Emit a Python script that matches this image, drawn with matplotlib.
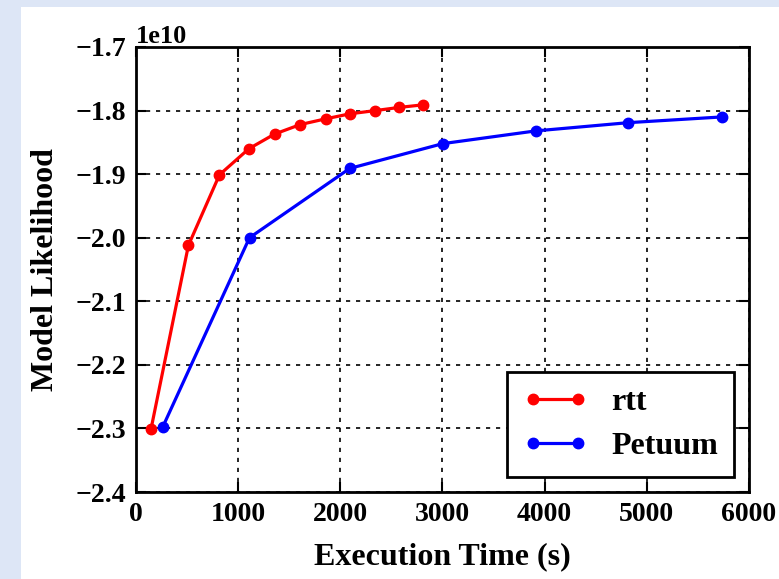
import matplotlib
matplotlib.use("Agg")
import matplotlib.pyplot as plt
from matplotlib.patches import Rectangle

# Convergence data: execution time (s) vs. model log-likelihood
rtt_time = [147, 513, 817, 1105, 1356, 1608, 1856, 2098, 2343, 2578, 2807]
rtt_ll = [-2.301e10, -2.012e10, -1.901e10, -1.860e10, -1.837e10, -1.822e10,
          -1.813e10, -1.805e10, -1.800e10, -1.795e10, -1.791e10]

petuum_time = [261, 1111, 2092, 3003, 3912, 4820, 5735]
petuum_ll = [-2.298e10, -2.000e10, -1.891e10, -1.852e10, -1.832e10,
             -1.819e10, -1.810e10]

x_ticks = [0, 1000, 2000, 3000, 4000, 5000, 6000]
y_ticks = [-2.4e10, -2.3e10, -2.2e10, -2.1e10, -2.0e10, -1.9e10, -1.8e10, -1.7e10]

plt.rcParams['font.family'] = ['Liberation Serif', 'DejaVu Serif']
plt.rcParams['font.weight'] = 'bold'

W, H = 779, 579
fig = plt.figure(figsize=(W / 100, H / 100), dpi=100, facecolor='#dde6f6')
fig.patches.append(Rectangle((21 / W, 0), 1 - 21 / W, 1 - 7 / H,
                             transform=fig.transFigure, facecolor='white',
                             edgecolor='none', zorder=-10))

ax = fig.add_axes([136 / W, 1 - 492 / H, (749 - 136) / W, (492 - 47) / H])

ax.plot(rtt_time, rtt_ll, color='red', lw=2.3, marker='o', ms=7.5,
        markeredgecolor='red', label='rtt', zorder=3)
ax.plot(petuum_time, petuum_ll, color='blue', lw=2.3, marker='o', ms=7.5,
        markeredgecolor='blue', label='Petuum', zorder=3)

ax.set_xlim(0, 6000)
ax.set_ylim(-2.4e10, -1.7e10)
ax.set_xticks(x_ticks)
ax.set_yticks(y_ticks)
ax.ticklabel_format(axis='y', style='sci', scilimits=(0, 0), useMathText=False)
ax.yaxis.get_offset_text().set_fontsize(19)
ax.yaxis.get_offset_text().set_fontweight('bold')

ax.grid(True, color='black', linestyle=(0, (2.5, 3.5)), linewidth=1.2)
ax.tick_params(direction='in', length=7, width=1.5, top=True, right=True,
               labelsize=20, pad=7)
for s in ax.spines.values():
    s.set_linewidth(2)

ax.set_xlabel('Execution Time (s)', fontsize=23, fontweight='bold', labelpad=11)
ax.set_ylabel('Model Likelihood', fontsize=23, fontweight='bold', labelpad=11)

leg = ax.legend(loc='lower right', numpoints=2, fontsize=23, fancybox=False,
                framealpha=1, edgecolor='black', borderpad=0.5,
                handlelength=2.0, handletextpad=0.75, labelspacing=0.45,
                borderaxespad=0.47)
leg.get_frame().set_linewidth(2)

fig.savefig('out.png', dpi=100, facecolor=fig.get_facecolor())
